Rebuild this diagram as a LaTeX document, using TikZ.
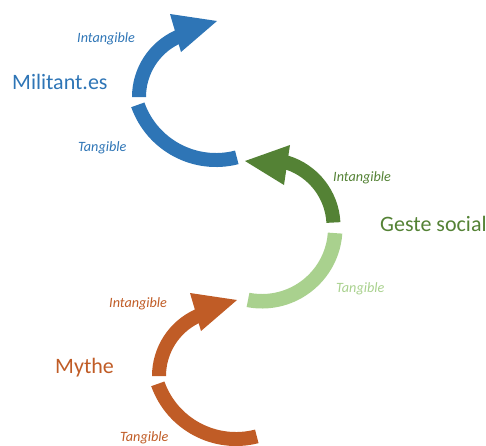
\documentclass[tikz,border=0pt]{standalone}
\usepackage{fontspec}
\setmainfont{Carlito}
\usetikzlibrary{calc}
\definecolor{cblue}{HTML}{2E75B6}
\definecolor{cgreen}{HTML}{548235}
\definecolor{clight}{HTML}{A9D18E}
\definecolor{corange}{HTML}{C05C26}
\begin{document}
\begin{tikzpicture}[x=1pt,y=1pt,
  bigtext/.style={font=\fontsize{22}{26}\selectfont, anchor=base west, inner sep=0pt},
  smalltext/.style={font=\fontsize{14.2}{17}\selectfont\itshape, anchor=base west, inner sep=0pt}]
\useasboundingbox (0,0) rectangle (486,-445);

% ---------- blue (top) and orange (bottom): same shape ----------
\foreach \dx/\dy/\col in {0/0/cblue, 20/-279/corange}{
  \begin{scope}[shift={(\dx,\dy)}]
    \coordinate (U) at (205,-97);
    \coordinate (L) at (216,-77);
    % upper part with arrow head
    \fill[\col] ($(U)+(180:73)$) arc[start angle=180, end angle=114.4, radius=73]
      -- (170,-14) -- (217,-21) -- (181,-52)
      -- ($(U)+(116.5:59)$) arc[start angle=116.5, end angle=180, radius=59] -- cycle;
    % lower part
    \fill[\col] ($(L)+(199.6:90)$) arc[start angle=199.6, end angle=284.5, radius=90]
      -- ($(L)+(284.5:76)$) arc[start angle=284.5, end angle=199.6, radius=76] -- cycle;
  \end{scope}
}

% ---------- green (middle) ----------
\coordinate (G1) at (267,-226);
\coordinate (G2) at (262,-228);
\fill[cgreen] ($(G1)+(3:73.5)$) arc[start angle=3, end angle=73.1, radius=73.5]
  -- (290,-145) -- (245,-161) -- (284,-185)
  -- ($(G1)+(71.1:59.5)$) arc[start angle=71.1, end angle=3, radius=59.5] -- cycle;
\fill[clight] ($(G2)+(-4:80.5)$) arc[start angle=-4, end angle=-101, radius=80.5]
  -- ($(G2)+(-101:66)$) arc[start angle=-101, end angle=-4, radius=66] -- cycle;

% ---------- texts ----------
\node[smalltext, text=cblue] (bi) at (77,-42) {Intangible};
\node[bigtext, text=cblue] (bm) at (12,-89) {Militant.es};
\node[smalltext, text=cblue] (bt) at (78,-151) {Tangible};

\node[smalltext, text=cgreen] (gi) at (333,-181) {Intangible};
\node[bigtext, text=cgreen] (gm) at (380,-231) {Geste social};
\node[smalltext, text=clight] (gt) at (336,-292) {Tangible};

\node[smalltext, text=corange] (oi) at (109,-307) {Intangible};
\node[bigtext, text=corange] (om) at (55,-373) {Mythe};
\node[smalltext, text=corange] (ot) at (120,-441) {Tangible};
\end{tikzpicture}
\end{document}
